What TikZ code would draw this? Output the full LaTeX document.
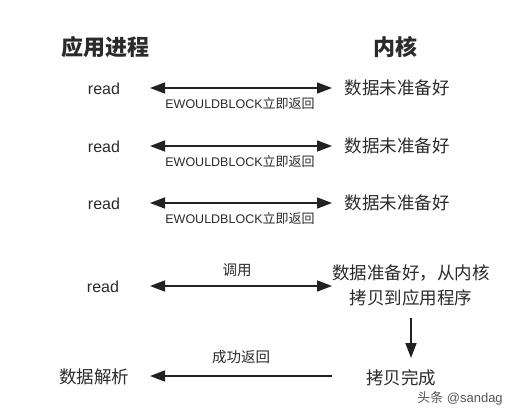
\documentclass[tikz,border=0pt]{standalone}
\usepackage{fontspec}
\setmainfont{Liberation Sans}
\newfontfamily\cjk{Noto Sans CJK SC}
\usetikzlibrary{arrows.meta}
\definecolor{txt}{HTML}{2B2B2B}
\definecolor{ln}{HTML}{222222}
\tikzset{
  title/.style={text=txt,font=\cjk\bfseries\fontsize{22}{24}\selectfont,inner sep=0pt},
  lat/.style={text=txt,font=\fontsize{16}{19}\selectfont,inner sep=0pt},
  cn/.style={text=txt,font=\cjk\fontsize{17.5}{25}\selectfont,inner sep=0pt,align=center},
  lab/.style={text=txt,font=\fontsize{12.5}{14}\selectfont,inner sep=0pt},
  labcn/.style={text=txt,font=\cjk\fontsize{14.5}{16}\selectfont,inner sep=0pt},
  arr/.style={draw=ln,line width=1.6pt,-{Triangle[length=15pt,width=11pt]}},
  darr/.style={draw=ln,line width=1.6pt,{Triangle[length=15pt,width=11pt]}-{Triangle[length=15pt,width=11pt]}},
}
\begin{document}
\begin{tikzpicture}[x=1pt,y=-1pt]
\useasboundingbox[fill=white] (0,0) rectangle (519,417);
\node[title] (tapp) at (105,47) {应用进程};
\node[title] (tker) at (395,47) {内核};
% rows
\foreach \i/\y in {1/88,2/146,3/203}{
  \node[lat] (r\i) at (104,\y+1) {read};
  \node[cn] (k\i) at (397,\y) {数据未准备好};
  \coordinate (a\i) at (150,\y);
  \coordinate (b\i) at (332,\y);
  \draw[darr] (a\i) -- (b\i);
  \node[lab] (l\i) at (240,\y+16) {EWOULDBLOCK{\cjk\fontsize{13}{14}\selectfont 立即返回}};
}
\node[lat] (r4) at (103,287) {read};
\node[cn] (k4) at (411,285) {数据准备好，从内核\\拷贝到应用程序};
\coordinate (a4) at (150,286);
\coordinate (b4) at (332,286);
\draw[darr] (a4) -- (b4);
\node[labcn] (l4) at (237,270) {调用};
\node[cn] (k5) at (401,378) {拷贝完成};
\node[cn] (d5) at (94,377) {数据解析};
\coordinate (c1) at (411,318);
\coordinate (c2) at (411,358);
\draw[arr] (c1) -- (c2);
\coordinate (e1) at (332,376);
\coordinate (e2) at (150,376);
\draw[arr] (e1) -- (e2);
\node[labcn] (l5) at (241,357) {成功返回};
\node[text=txt!80,font=\fontsize{13}{14}\selectfont,inner sep=0pt] (wm) at (460,398) {{\cjk 头条} @sandag};
\end{tikzpicture}
\end{document}
